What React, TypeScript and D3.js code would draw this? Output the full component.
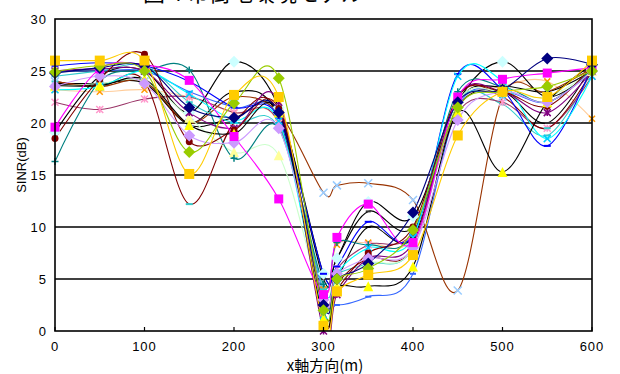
import * as d3 from 'd3';

// distance along x axis (m)
const xPos = [0, 50, 100, 150, 200, 250, 300, 315, 350, 400, 450, 500, 550, 600];
const yTicks = [0, 5, 10, 15, 20, 25, 30];
const xTicks = [0, 100, 200, 300, 400, 500, 600];

// SINR (dB) per measurement run
const runPeach = [23.2, 23.0, 23.2, 22.5, 21.0, 20.0, 4.0, 8.3, 8.5, 9.0, 21.5, 23.5, 24.0, 20.4];
const runBlack1 = [23.7, 23.7, 24.0, 20.0, 23.0, 20.5, 3.0, 5.0, 10.0, 9.0, 22.0, 23.5, 23.0, 25.0];
const runBlack2 = [23.8, 23.8, 23.8, 19.8, 20.5, 21.0, 5.0, 7.0, 11.5, 10.0, 21.5, 23.0, 20.0, 25.5];
const runLowBlue = [25.0, 25.0, 25.0, 23.0, 21.5, 20.5, 3.5, 2.5, 3.3, 5.5, 21.5, 23.0, 22.0, 25.0];
const runCyan2 = [24.5, 25.0, 25.5, 22.0, 20.0, 19.5, 4.0, 5.5, 6.5, 8.0, 22.0, 21.8, 18.8, 25.0];
const runPinkStar = [22.0, 21.3, 22.3, 22.5, 21.0, 20.0, 3.0, 6.0, 8.3, 9.5, 21.0, 22.0, 19.5, 24.5];
const runDip150 = [24.0, 23.5, 24.0, 12.2, 20.0, 21.0, 1.0, 4.5, 7.0, 8.0, 22.5, 22.5, 19.5, 25.0];
const runBrown = [24.0, 23.5, 24.0, 20.0, 22.5, 21.0, 13.3, 14.0, 14.2, 12.6, 3.9, 22.5, 23.0, 25.3];
const runPaleDiamond = [19.1, 24.5, 25.0, 21.0, 25.9, 21.5, 5.5, 7.0, 12.4, 11.0, 22.0, 25.9, 22.5, 25.0];
const runPaleTriangle = [23.5, 23.8, 24.0, 20.5, 17.2, 16.9, 2.5, 4.5, 6.5, 8.0, 22.0, 23.0, 22.5, 25.0];
const runTeal = [16.3, 24.0, 25.0, 25.1, 16.6, 19.5, 4.5, 8.5, 8.3, 9.3, 23.0, 23.5, 22.0, 25.2];
const runBlue = [25.5, 25.8, 25.5, 24.0, 21.5, 20.5, 5.5, 6.2, 10.5, 9.2, 24.7, 23.2, 17.8, 25.5];
const runCyan = [23.2, 23.5, 25.0, 22.8, 20.3, 20.2, 1.5, 5.5, 8.0, 9.0, 24.5, 24.0, 18.5, 24.5];
const runPurple = [25.0, 25.2, 25.0, 21.0, 19.5, 22.0, 0.0, 3.5, 7.0, 8.5, 22.5, 23.0, 21.0, 25.0];
const runDarkRed = [18.5, 24.2, 26.6, 18.2, 19.3, 21.4, 2.0, 4.0, 7.5, 10.0, 22.5, 23.0, 21.6, 25.5];
const runYellow = [23.6, 23.6, 24.2, 19.8, 19.0, 21.0, 1.2, 4.2, 4.3, 6.2, 21.0, 15.3, 22.0, 25.6];
const runLilac = [23.5, 24.5, 23.8, 18.8, 18.1, 19.5, 3.0, 5.5, 7.0, 8.0, 20.3, 23.0, 22.0, 25.0];
const runMagenta = [19.6, 25.2, 25.6, 24.1, 18.7, 12.7, 3.5, 9.0, 12.2, 8.5, 22.5, 24.2, 24.8, 25.3];
const runNavy = [24.8, 25.3, 25.5, 21.5, 20.5, 21.0, 2.5, 5.0, 6.5, 11.4, 22.0, 23.2, 26.2, 25.6];
const runGreen = [24.9, 25.5, 25.0, 17.2, 21.9, 24.3, 2.0, 5.0, 6.0, 9.7, 21.5, 23.0, 23.5, 25.0];
const runOrange = [26.0, 26.0, 26.0, 15.1, 22.7, 22.5, 0.5, 3.8, 5.4, 7.3, 18.8, 23.0, 22.5, 26.0];

type Marker = 'square' | 'diamond' | 'triangle' | 'x' | 'star' | 'circle' | 'plus' | 'dash';

const series: { values: number[]; line: string; marker: Marker; fill: string; size: number }[] = [
  { values: runPeach, line: '#FFCC99', marker: 'x', fill: '#FF9900', size: 6 },
  { values: runBlack1, line: '#000000', marker: 'dash', fill: '#000000', size: 5 },
  { values: runBlack2, line: '#000000', marker: 'dash', fill: '#333333', size: 5 },
  { values: runLowBlue, line: '#3366FF', marker: 'dash', fill: '#3366FF', size: 6 },
  { values: runCyan2, line: '#33CCCC', marker: 'dash', fill: '#33CCCC', size: 7 },
  { values: runPinkStar, line: '#993366', marker: 'star', fill: '#FF99CC', size: 7 },
  { values: runDip150, line: '#800000', marker: 'dash', fill: '#33CCCC', size: 7 },
  { values: runBrown, line: '#993300', marker: 'x', fill: '#99CCFF', size: 8 },
  { values: runPaleDiamond, line: '#000000', marker: 'diamond', fill: '#CCFFFF', size: 10 },
  { values: runPaleTriangle, line: '#CCFFCC', marker: 'triangle', fill: '#FFFF99', size: 10 },
  { values: runTeal, line: '#008080', marker: 'plus', fill: '#008080', size: 7 },
  { values: runBlue, line: '#0000FF', marker: 'dash', fill: '#0000FF', size: 7 },
  { values: runCyan, line: '#00FFFF', marker: 'x', fill: '#00CCFF', size: 7 },
  { values: runPurple, line: '#800080', marker: 'star', fill: '#800080', size: 7 },
  { values: runDarkRed, line: '#800000', marker: 'circle', fill: '#800000', size: 8 },
  { values: runYellow, line: '#000000', marker: 'triangle', fill: '#FFFF00', size: 10 },
  { values: runLilac, line: '#CC99FF', marker: 'diamond', fill: '#CC99FF', size: 10 },
  { values: runMagenta, line: '#FF00FF', marker: 'square', fill: '#FF00FF', size: 9 },
  { values: runNavy, line: '#000080', marker: 'diamond', fill: '#000080', size: 10 },
  { values: runGreen, line: '#99CC00', marker: 'diamond', fill: '#99CC00', size: 10 },
  { values: runOrange, line: '#FFCC00', marker: 'square', fill: '#FFCC00', size: 10 },
];

const W = 620, H = 374;
const left = 55, right = 592, top = 19, bottom = 331;

function markerPath(m: Marker, s: number): string {
  const h = s / 2;
  switch (m) {
    case 'square': return `M${-h},${-h}H${h}V${h}H${-h}Z`;
    case 'diamond': return `M0,${-h - 1}L${h + 1},0L0,${h + 1}L${-h - 1},0Z`;
    case 'triangle': return `M0,${-h}L${h},${h}L${-h},${h}Z`;
    case 'circle': return d3.symbol(d3.symbolCircle, s * s * 0.6)() || '';
    case 'x': return `M${-h},${-h}L${h},${h}M${h},${-h}L${-h},${h}`;
    case 'plus': return `M${-h},0H${h}M0,${-h}V${h}`;
    case 'star': return `M${-h},${-h}L${h},${h}M${h},${-h}L${-h},${h}M0,${-h}V${h}`;
    case 'dash': return `M${-h},-1H${h}V1H${-h}Z`;
  }
}

export default function App() {
  const x = d3.scaleLinear().domain([0, 600]).range([left, right]);
  const y = d3.scaleLinear().domain([0, 30]).range([bottom, top]);

  const line = d3.line<number>()
    .x((_, i) => x(xPos[i]))
    .y(d => y(d))
    .curve(d3.curveCatmullRom.alpha(0));

  const font = "'Liberation Sans', Arial, sans-serif";
  const cjk = "'Noto Sans CJK JP', 'Liberation Sans', sans-serif";

  return (
    <svg width={W} height={H} style={{ display: 'block', position: 'absolute', left: 0, top: 0 }}>
      <rect x={0} y={0} width={W} height={H} fill="#ffffff" />
      <text x={253} y={1} textAnchor="middle" fontFamily={cjk} fontSize={22} fill="#000">
        図 4 市街地環境モデル
      </text>
      <defs>
        <clipPath id="plot">
          <rect x={left} y={top - 6} width={right - left + 6} height={bottom - top + 6} />
        </clipPath>
      </defs>

      {/* grid */}
      {yTicks.filter(t => t > 0 && t < 30).map(t => (
        <line key={t} x1={left} x2={right} y1={y(t)} y2={y(t)} stroke="#000" strokeWidth={1.4} />
      ))}

      {/* series lines */}
      <g clipPath="url(#plot)">
        {series.map((s, i) => (
          <path key={i} d={line(s.values) || ''} fill="none" stroke={s.line} strokeWidth={1.1} />
        ))}
      </g>

      {/* markers */}
      {series.map((s, i) => (
        <g key={i}>
          {s.values.map((v, j) => {
            const stroke = ['x', 'plus', 'star'].includes(s.marker);
            return (
              <path
                key={j}
                transform={`translate(${x(xPos[j])},${y(v)})`}
                d={markerPath(s.marker, s.size)}
                fill={stroke ? 'none' : s.fill}
                stroke={stroke ? s.fill : 'none'}
                strokeWidth={stroke ? 1.5 : 0}
              />
            );
          })}
        </g>
      ))}

      {/* frame */}
      <rect x={left} y={top} width={right - left} height={bottom - top} fill="none" stroke="#000" strokeWidth={1.6} />
      {xTicks.map(t => (
        <line key={t} x1={x(t)} x2={x(t)} y1={bottom} y2={bottom - 4} stroke="#000" strokeWidth={1.2} />
      ))}

      {/* y ticks */}
      {yTicks.map(t => (
        <text key={t} x={47} y={y(t) + 5} textAnchor="end" fontFamily={font} fontSize={13} letterSpacing={1} fill="#000">
          {t}
        </text>
      ))}
      {/* x ticks */}
      {xTicks.map(t => (
        <text key={t} x={x(t)} y={351} textAnchor="middle" fontFamily={font} fontSize={13} letterSpacing={1} fill="#000">
          {t}
        </text>
      ))}

      <text transform="translate(26,165) rotate(-90)" textAnchor="middle" fontFamily={font} fontSize={13} fill="#000">
        SINR(dB)
      </text>
      <text x={325} y={371} textAnchor="middle" fontFamily={cjk} fontSize={15} fill="#000">
        x軸方向(m)
      </text>
    </svg>
  );
}
